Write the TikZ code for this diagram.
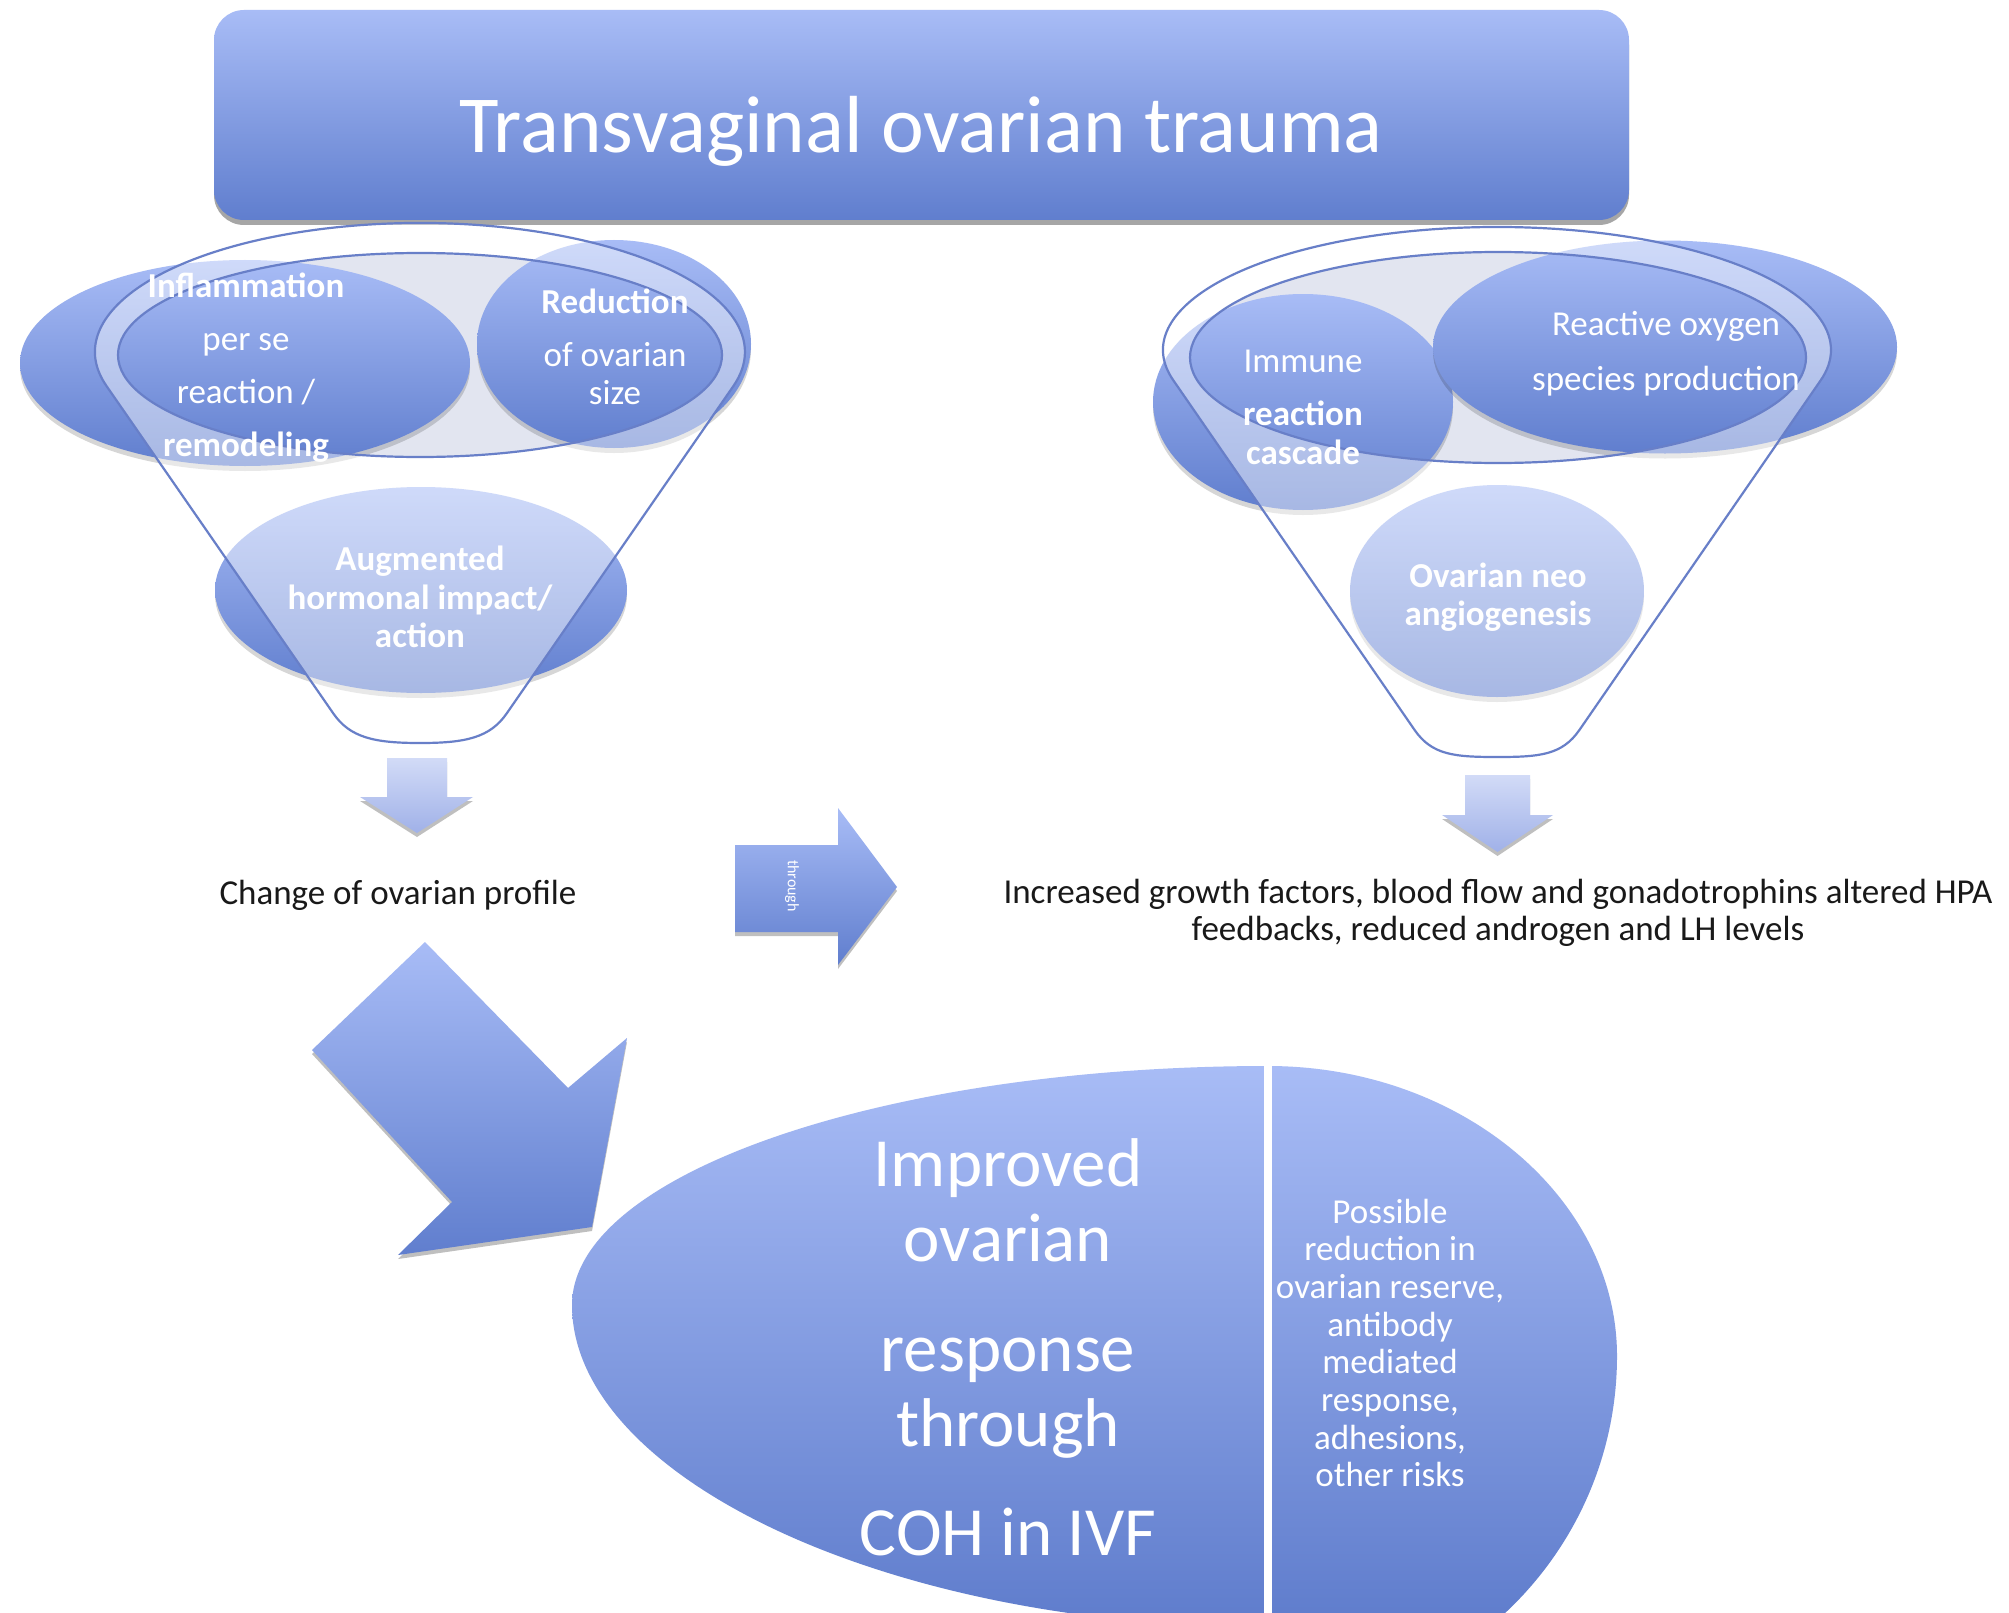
\documentclass[tikz,border=0pt]{standalone}
\usepackage{fontspec}
\setmainfont{Carlito}
\usetikzlibrary{shapes.geometric,shadows}
\definecolor{btop}{RGB}{168,188,246}
\definecolor{bbot}{RGB}{96,126,206}
\definecolor{eggbot}{RGB}{84,115,198}
\definecolor{ltop}{RGB}{210,219,247}
\definecolor{lbot}{RGB}{160,177,232}
\definecolor{fline}{RGB}{104,127,200}
\definecolor{opening}{RGB}{226,229,240}
\definecolor{txtdark}{RGB}{25,25,25}
\begin{document}
\begin{tikzpicture}[x=1pt,y=-1pt,
  every node/.style={inner sep=0pt,outer sep=0pt},
  softshadow/.style={drop shadow={shadow xshift=0pt,shadow yshift=-5pt,opacity=0.16,fill=black}},
  blob/.style={ellipse,draw=none,top color=btop,bottom color=bbot,softshadow},
  ctext/.style={text=white,align=center},
  funline/.style={draw=fline,line width=2.2pt},
  whiten/.style={fill=white,fill opacity=0.45,even odd rule},
  bigshape/.style={top color=btop,bottom color=bbot},
  lightarrow/.style={top color=ltop,bottom color=lbot,drop shadow={shadow xshift=0pt,shadow yshift=-4pt,opacity=0.25,fill=black}},
  darktext/.style={text=txtdark}
]
\useasboundingbox (0,0) rectangle (2009,1613);
\fill[white] (0,0) rectangle (2009,1613);

% ---------- banner ----------
\node[rectangle,rounded corners=30pt,minimum width=1415pt,minimum height=210pt,
      top color=btop,bottom color=bbot,
      drop shadow={shadow xshift=0pt,shadow yshift=-5pt,opacity=0.35,fill=black}] (banner) at (921.5,115) {};
\node[anchor=base,text=white,font=\fontsize{81}{90}\selectfont] (bannertext) at (921,153) {Transvaginal ovarian trauma};

% ---------- left funnel ----------
\fill[opening] (420,355) ellipse [x radius=302pt,y radius=102pt];
\node[blob,minimum width=450pt,minimum height=206pt] (infl) at (245,363) {};
\node[blob,minimum width=274pt,minimum height=208pt] (redu) at (614,344) {};
\node[blob,minimum width=412pt,minimum height=206pt] (augm) at (421,590) {};
\path[whiten] (106.5,386) arc[start angle=195.3,end angle=-15.3,x radius=325pt,y radius=129pt]
   -- (507,713) .. controls (490,738) and (465,743) .. (420,743)
   .. controls (375,743) and (350,738) .. (333,713) -- cycle
   (420,355) ellipse [x radius=302pt,y radius=102pt];
\draw[funline] (106.5,386) arc[start angle=195.3,end angle=-15.3,x radius=325pt,y radius=129pt]
   -- (507,713) .. controls (490,738) and (465,743) .. (420,743)
   .. controls (375,743) and (350,738) .. (333,713) -- cycle;
\draw[funline] (420,355) ellipse [x radius=302pt,y radius=102pt];

\node[ctext,font=\fontsize{35}{53}\selectfont] (infltext) at (246,368)
  {\textbf{Inflammation}\\per se\\reaction /\\\textbf{remodeling}};
\node[ctext,font=\fontsize{35}{38}\selectfont] (redutext) at (615,347)
  {\textbf{Reduction}\\[15pt]of ovarian\\size};
\node[ctext,font=\fontsize{35}{38.5}\selectfont\bfseries] (augmtext) at (420,597)
  {Augmented\\hormonal impact/\\action};

% ---------- right funnel ----------
\fill[opening] (1498,357.5) ellipse [x radius=308pt,y radius=105.5pt];
\node[blob,minimum width=300pt,minimum height=216pt] (immu) at (1303,402) {};
\node[blob,minimum width=464pt,minimum height=213pt] (reac) at (1665,347) {};
\node[blob,minimum width=294pt,minimum height=212pt] (angi) at (1497,591) {};
\path[whiten] (1173.3,380.3) arc[start angle=194.26,end angle=-14.26,x radius=334pt,y radius=123pt]
   -- (1579.4,730) .. controls (1562,755) and (1540,757) .. (1497,757)
   .. controls (1454,757) and (1432,755) .. (1414.6,730) -- cycle
   (1498,357.5) ellipse [x radius=308pt,y radius=105.5pt];
\draw[funline] (1173.3,380.3) arc[start angle=194.26,end angle=-14.26,x radius=334pt,y radius=123pt]
   -- (1579.4,730) .. controls (1562,755) and (1540,757) .. (1497,757)
   .. controls (1454,757) and (1432,755) .. (1414.6,730) -- cycle;
\draw[funline] (1498,357.5) ellipse [x radius=308pt,y radius=105.5pt];

\node[ctext,font=\fontsize{35}{39}\selectfont] (immutext) at (1303,407)
  {Immune\\[14pt]\textbf{reaction}\\\textbf{cascade}};
\node[ctext,font=\fontsize{35}{55}\selectfont] (reactext) at (1666,354)
  {Reactive oxygen\\species production};
\node[ctext,font=\fontsize{35}{38}\selectfont\bfseries] (angitext) at (1498,597)
  {Ovarian neo\\angiogenesis};

% ---------- down arrows ----------
\path[lightarrow] (387,758) -- (447,758) -- (447,797) -- (473,797) -- (417,833)
   -- (360,797) -- (387,797) -- cycle;
\path[lightarrow] (1465,775) -- (1530,775) -- (1530,815) -- (1553,815) -- (1497.5,852)
   -- (1442,815) -- (1465,815) -- cycle;

% ---------- texts ----------
\node[darktext,anchor=base,font=\fontsize{35}{37}\selectfont] (change) at (398,904)
  {Change of ovarian profile};
\node[darktext,align=center,font=\fontsize{35}{37}\selectfont] (increased) at (1498,913)
  {Increased growth factors, blood flow and gonadotrophins altered HPA\\feedbacks, reduced androgen and LH levels};

% ---------- through arrow ----------
\path[bigshape,drop shadow={shadow xshift=0pt,shadow yshift=-4pt,opacity=0.25,fill=black}]
  (735,845) -- (838,845) -- (838,808) -- (897,887) -- (838,965) -- (838,932) -- (735,932) -- cycle;
\node[rotate=-90,text=white,font=\fontsize{16}{16}\selectfont] (through) at (792,886) {through};

% ---------- big diagonal arrow ----------
\path[bigshape,drop shadow={shadow xshift=0pt,shadow yshift=-4pt,opacity=0.25,fill=black}]
  (425,942) -- (568,1088) -- (627,1038) -- (592,1227) -- (398,1255) -- (452,1202) -- (312,1050) -- cycle;

% ---------- egg ----------
\path[top color=btop,bottom color=eggbot]
  (1268,1066) .. controls (885,1066) and (572,1174) .. (572,1305)
  .. controls (572,1476) and (885,1627) .. (1268,1627)
  -- (1268,1707) .. controls (1460,1707) and (1617,1549) .. (1617,1356)
  .. controls (1617,1197) and (1460,1066) .. (1268,1066) -- cycle;
\draw[white,line width=8pt] (1268,1055) -- (1268,1625);

\node[ctext,font=\fontsize{69}{75}\selectfont] (improved) at (1008,1347)
  {Improved\\ovarian\\[35pt]response\\through\\[34pt]COH in IVF};
\node[ctext,font=\fontsize{35}{37.7}\selectfont] (possible) at (1390,1343)
  {Possible\\reduction in\\ovarian reserve,\\antibody\\mediated\\response,\\adhesions,\\other risks};
\end{tikzpicture}
\end{document}
